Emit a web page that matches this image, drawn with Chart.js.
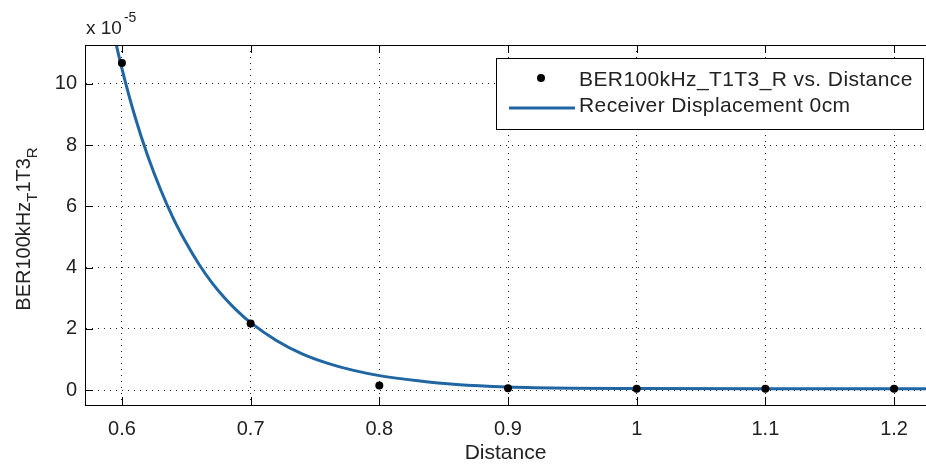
<!DOCTYPE html>
<html>
<head>
<meta charset="utf-8">
<script src="https://cdn.jsdelivr.net/npm/chart.js@4.4.1/dist/chart.umd.min.js"></script>
<style>
  html, body { margin: 0; padding: 0; background: #fff; overflow: hidden; }
  #wrap { width: 926px; height: 464px; }
</style>
</head>
<body>
<div id="wrap"><canvas id="c" width="926" height="464"></canvas></div>
<script>
// Measured bit error rate (in units of 1e-5) at each transmitter–receiver distance
const distances   = [0.6, 0.7, 0.8, 0.9, 1.0, 1.1, 1.2];
const berMeasured = [10.68, 2.17, 0.15, 0.06, 0.04, 0.04, 0.04];

// Fitted curve for receiver displacement 0 cm (units of 1e-5)
const fitDistance = [0.59, 0.60, 0.61, 0.62, 0.63, 0.64, 0.65, 0.66, 0.67, 0.68, 0.69, 0.70,
                     0.72, 0.74, 0.76, 0.78, 0.80, 0.83, 0.86, 0.90, 0.95, 1.00, 1.10, 1.23];
const fitBer      = [12.3, 10.5, 8.95, 7.65, 6.55, 5.6, 4.8, 4.1, 3.5, 3.0, 2.57, 2.2,
                     1.62, 1.18, 0.87, 0.64, 0.47, 0.30, 0.18, 0.10, 0.06, 0.05, 0.04, 0.04];

const xTicks = [0.6, 0.7, 0.8, 0.9, 1.0, 1.1, 1.2];
const yTicks = [0, 2, 4, 6, 8, 10];

const legendLabels = ['BER100kHz_T1T3_R vs. Distance', 'Receiver Displacement 0cm'];
const xTitle = 'Distance';
const exponentText = ['x 10', '-5'];

const FONT = 'Liberation Sans, Arial, sans-serif';
const LINE_COLOR = '#1f66a3';

// Box, inward tick marks, axis title with subscripts, exponent and legend
const decorations = {
  id: 'decorations',
  afterDraw(chart) {
    const ctx = chart.ctx;
    const a = chart.chartArea;
    const xs = chart.scales.x, ys = chart.scales.y;
    ctx.save();

    // frame: top edge
    ctx.strokeStyle = '#000';
    ctx.lineWidth = 1;
    ctx.beginPath();
    ctx.moveTo(a.left, Math.round(a.top) + 0.5);
    ctx.lineTo(a.right, Math.round(a.top) + 0.5);
    ctx.stroke();

    // inward ticks
    const TL = 8;
    ctx.beginPath();
    xTicks.forEach(v => {
      const px = Math.round(xs.getPixelForValue(v)) + 0.5;
      ctx.moveTo(px, a.bottom); ctx.lineTo(px, a.bottom - TL);
      ctx.moveTo(px, a.top); ctx.lineTo(px, a.top + TL);
    });
    yTicks.forEach(v => {
      const py = Math.round(ys.getPixelForValue(v)) + 0.5;
      ctx.moveTo(a.left, py); ctx.lineTo(a.left + TL, py);
    });
    ctx.stroke();

    // x axis title
    ctx.fillStyle = '#222';
    ctx.font = '21px ' + FONT;
    ctx.textAlign = 'center';
    ctx.textBaseline = 'alphabetic';
    ctx.fillText(xTitle, (a.left + a.right) / 2, 459);

    // y axis title: BER100kHz_T1T3_R rendered with subscripts
    const segs = [
      { t: 'BER100kHz', sub: false },
      { t: 'T', sub: true },
      { t: '1T3', sub: false },
      { t: 'R', sub: true }
    ];
    const mainF = '20px ' + FONT, subF = '15px ' + FONT;
    let total = 0;
    segs.forEach(s => { ctx.font = s.sub ? subF : mainF; s.w = ctx.measureText(s.t).width; total += s.w; });
    ctx.save();
    ctx.translate(30, (a.top + a.bottom) / 2 + 4);
    ctx.rotate(-Math.PI / 2);
    ctx.textAlign = 'left';
    let cx = -total / 2;
    segs.forEach(s => {
      ctx.font = s.sub ? subF : mainF;
      ctx.fillText(s.t, cx, s.sub ? 7 : 0);
      cx += s.w;
    });
    ctx.restore();

    // exponent label above the y axis
    ctx.textAlign = 'left';
    ctx.font = '19px ' + FONT;
    ctx.fillText(exponentText[0], 86, 34);
    const ew = ctx.measureText(exponentText[0]).width;
    ctx.font = '14px ' + FONT;
    ctx.fillText(exponentText[1], 86 + ew + 2, 22);

    // legend
    const lx = 496.5, ly = 58.5, lw = 427, lh = 71;
    ctx.fillStyle = '#fff';
    ctx.fillRect(lx, ly, lw, lh);
    ctx.strokeStyle = '#000';
    ctx.strokeRect(lx, ly, lw, lh);

    ctx.fillStyle = '#000';
    ctx.beginPath();
    ctx.arc(541, 78, 4, 0, Math.PI * 2);
    ctx.fill();

    ctx.strokeStyle = LINE_COLOR;
    ctx.lineWidth = 3;
    ctx.beginPath();
    ctx.moveTo(509, 108); ctx.lineTo(575, 108);
    ctx.stroke();

    ctx.fillStyle = '#222';
    ctx.font = '21px ' + FONT;
    ctx.letterSpacing = '0.4px';
    ctx.textAlign = 'left';
    ctx.textBaseline = 'middle';
    ctx.fillText(legendLabels[0], 579, 80);
    ctx.fillText(legendLabels[1], 579, 106);

    ctx.restore();
  }
};

new Chart(document.getElementById('c'), {
  type: 'scatter',
  data: {
    datasets: [
      {
        label: legendLabels[1],
        data: fitDistance.map((d, i) => ({ x: d, y: fitBer[i] })),
        showLine: true,
        borderColor: LINE_COLOR,
        borderWidth: 3,
        pointRadius: 0,
        pointHoverRadius: 0,
        cubicInterpolationMode: 'monotone',
        fill: false,
        clip: 0,
        order: 2
      },
      {
        label: legendLabels[0],
        data: distances.map((d, i) => ({ x: d, y: berMeasured[i] })),
        showLine: false,
        pointRadius: 4,
        pointHoverRadius: 4,
        pointBackgroundColor: '#000',
        pointBorderColor: '#000',
        pointBorderWidth: 0,
        order: 1
      }
    ]
  },
  options: {
    responsive: false,
    devicePixelRatio: 1,
    animation: false,
    events: [],
    layout: { autoPadding: false, padding: { top: 45, right: 0, left: 0, bottom: 0 } },
    plugins: {
      legend: { display: false },
      tooltip: { enabled: false },
      title: { display: false }
    },
    scales: {
      x: {
        type: 'linear',
        min: 0.5713,
        max: 1.2248,
        afterBuildTicks: s => { s.ticks = xTicks.map(v => ({ value: v })); },
        afterFit: s => {
          s.height = 59;
          s.paddingLeft = 0; s.paddingRight = 0; s.paddingTop = 0; s.paddingBottom = 0;
        },
        ticks: {
          font: { family: FONT, size: 20 },
          color: '#222',
          padding: 12,
          maxRotation: 0,
          autoSkip: false,
          callback: v => String(v)
        },
        grid: { color: '#222', lineWidth: 1, drawTicks: false },
        border: { display: true, color: '#000', width: 1, dash: [1, 5] }
      },
      y: {
        type: 'linear',
        min: -0.49,
        max: 11.27,
        afterBuildTicks: s => { s.ticks = yTicks.map(v => ({ value: v })); },
        afterFit: s => {
          s.width = 85;
          s.paddingLeft = 0; s.paddingRight = 0; s.paddingTop = 0; s.paddingBottom = 0;
        },
        ticks: {
          font: { family: FONT, size: 20 },
          color: '#222',
          padding: 8,
          autoSkip: false,
          callback: v => String(v)
        },
        grid: { color: '#222', lineWidth: 1, drawTicks: false },
        border: { display: true, color: '#000', width: 1, dash: [1, 5] }
      }
    }
  },
  plugins: [decorations]
});
</script>
</body>
</html>
